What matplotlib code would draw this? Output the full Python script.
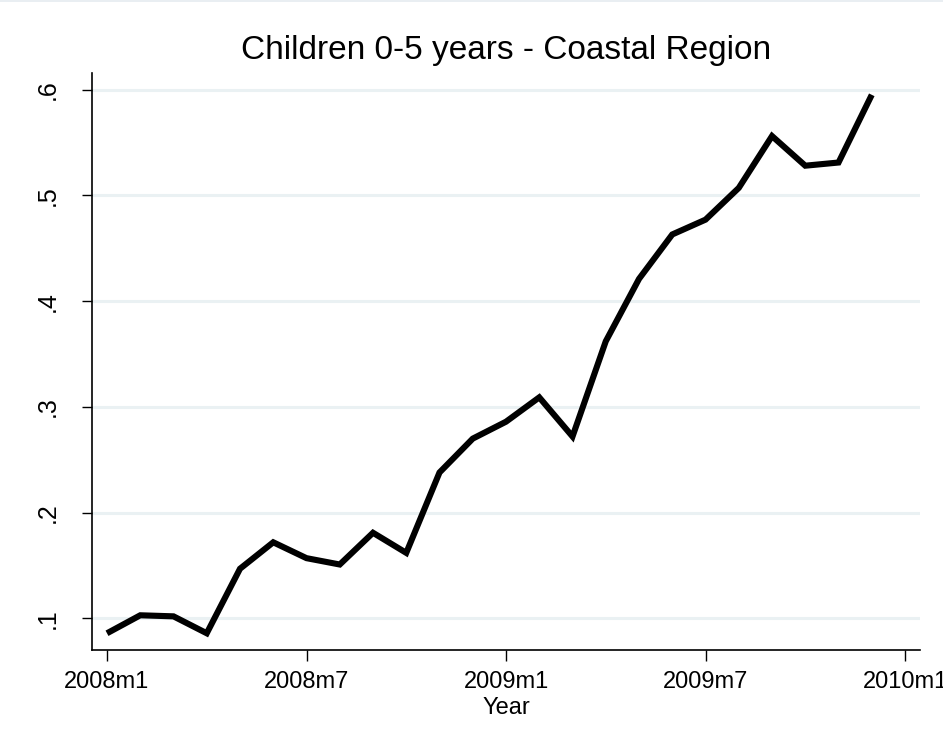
import matplotlib
matplotlib.use("Agg")
import matplotlib.pyplot as plt
from matplotlib.patches import Rectangle

# Monthly series, 2008m1 .. 2009m12
months = list(range(24))
share = [0.086, 0.103, 0.102, 0.086, 0.147, 0.172, 0.157, 0.151,
         0.181, 0.162, 0.238, 0.270, 0.286, 0.309, 0.272, 0.362,
         0.421, 0.463, 0.477, 0.507, 0.556, 0.528, 0.531, 0.595]

x_ticks = [0, 6, 12, 18, 24]
x_labels = ["2008m1", "2008m7", "2009m1", "2009m7", "2010m1"]
y_ticks = [0.1, 0.2, 0.3, 0.4, 0.5, 0.6]
y_labels = [".1", ".2", ".3", ".4", ".5", ".6"]

plt.rcParams["font.family"] = ["Liberation Sans", "DejaVu Sans"]

fig = plt.figure(figsize=(9.43, 7.49), dpi=100)
fig.patch.set_facecolor("white")
fig.add_artist(Rectangle((0, 0.997), 1, 0.003, transform=fig.transFigure,
                         facecolor="#e9eef2", edgecolor="none"))

ax = fig.add_axes([0.0976, 0.1322, 0.8780, 0.7703])
ax.plot(months, share, color="black", linewidth=4.4, solid_joinstyle="miter",
        solid_capstyle="butt", zorder=3)

ax.set_xlim(-0.45, 24.45)
ax.set_ylim(0.0702, 0.6156)

ax.set_xticks(x_ticks)
ax.set_xticklabels(x_labels, fontsize=17)
ax.set_yticks(y_ticks)
ax.set_yticklabels(y_labels, fontsize=18, rotation=90, va="center")

ax.tick_params(axis="x", length=8, width=1, pad=7, colors="black")
ax.tick_params(axis="y", length=7, width=1, pad=16, colors="black")

ax.grid(axis="y", color="#eaf1f3", linewidth=2.2, zorder=0)
ax.grid(axis="x", visible=False)

for side in ("top", "right"):
    ax.spines[side].set_visible(False)
for side in ("left", "bottom"):
    ax.spines[side].set_linewidth(1.2)
    ax.spines[side].set_color("black")

ax.set_xlabel("Year", fontsize=17, labelpad=3)
ax.set_title("Children 0-5 years - Coastal Region", fontsize=24, pad=10)

fig.savefig("out.png", dpi=100, facecolor="white")
